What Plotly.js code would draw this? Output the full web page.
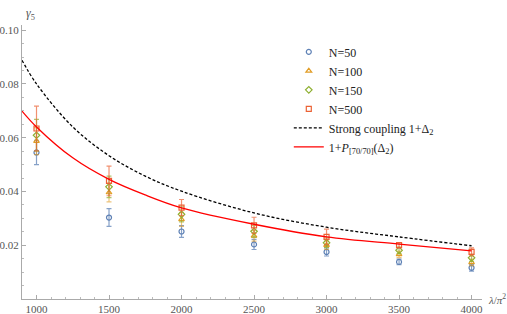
<!DOCTYPE html>
<html>
<head>
<meta charset="utf-8">
<script src="https://cdn.plot.ly/plotly-3.0.1.min.js"></script>
<style>html,body{margin:0;padding:0;background:#fff;}#chart{width:507px;height:314px;}</style>
</head>
<body>
<div id="chart"></div>
<script>
// lambda / pi^2 values of the data points
const lambdaVals = [1000, 1500, 2000, 2500, 3000, 3500, 4000];

// gamma_5 estimates and errors
const n50 = [0.0545, 0.0303, 0.0251, 0.0203, 0.0175, 0.0138, 0.0116];
const n50Err = [0.0045, 0.0033, 0.0022, 0.0019, 0.0015, 0.0010, 0.0012];
const n100 = [0.0587, 0.0396, 0.0296, 0.0235, 0.0200, 0.0166, 0.0136];
const n100Err = [0.0050, 0.0035, 0.0026, 0.0020, 0.0016, 0.0012, 0.0012];
const n150 = [0.0609, 0.0417, 0.0315, 0.0252, 0.0209, 0.0181, 0.0153];
const n150Err = [0.0059, 0.0040, 0.0028, 0.0022, 0.0018, 0.0012, 0.0013];
const n500 = [0.0634, 0.0439, 0.0340, 0.0274, 0.0231, 0.0200, 0.0175];
const n500Err = [0.0083, 0.0055, 0.0030, 0.0030, 0.0029, 0.0010, 0.0015];

// curves
const curveLambda = [900, 1000, 1250, 1500, 1750, 2000, 2500, 3000, 3500, 4000];
const strongCoupling = [0.0888, 0.0800, 0.0640, 0.0533, 0.0457, 0.0401, 0.0320, 0.0267, 0.0231, 0.0198];
const pade = [0.0699, 0.0640, 0.0525, 0.0445, 0.0387, 0.0339, 0.0278, 0.0231, 0.0204, 0.0179];

const xTicks = [1000, 1500, 2000, 2500, 3000, 3500, 4000];
const yTicks = [0.02, 0.04, 0.06, 0.08, 0.10];

const serif = "Times New Roman, Liberation Serif, serif";
const colors = {blue:'#5E81B5', orange:'#E19C24', green:'#8FB032', red:'#EB6235'};
const errColors = {blue:'rgba(94,129,181,0.75)', orange:'rgba(225,156,36,0.6)', green:'rgba(143,176,50,0.7)', red:'rgba(235,98,53,0.7)'};

function pts(name, y, err, sym, key) {
  return {
    x: lambdaVals, y: y, name: name, type: 'scatter', mode: 'markers', legendgroup: name,
    marker: {symbol: sym, size: 5, color: colors[key], line: {width: 1.2, color: colors[key]}},
    error_y: {type: 'data', array: err, visible: true, color: errColors[key], thickness: 1.2, width: 2.5}
  };
}

const traces = [
  pts('N=50', n50, n50Err, 'circle-open', 'blue'),
  pts('N=100', n100, n100Err, 'triangle-up-open', 'orange'),
  pts('N=150', n150, n150Err, 'diamond-open', 'green'),
  pts('N=500', n500, n500Err, 'square-open', 'red'),
  {x: curveLambda, y: strongCoupling, name: 'Strong coupling 1+Δ<sub>2</sub>', type: 'scatter', mode: 'lines', legendgroup: 'sc',
   line: {color: '#000', width: 1.3, dash: '3px,2px', shape: 'spline'}},
  {x: curveLambda, y: pade, name: '1+<i>P</i><sub>[70/70]</sub>(Δ<sub>2</sub>)', type: 'scatter', mode: 'lines', legendgroup: 'pade',
   line: {color: '#FF0000', width: 1.3, shape: 'spline'}}
];

const axisCommon = {
  showgrid: false, zeroline: false, showline: true, linecolor: '#aaa', linewidth: 1,
  ticks: 'inside', tickcolor: '#aaa', ticklen: 4, tickwidth: 1,
  tickfont: {family: serif, size: 11, color: '#555'}
};

const layout = {
  width: 507, height: 314,
  font: {family: serif},
  margin: {l: 22, r: 25, t: 25, b: 15},
  paper_bgcolor: '#fff', plot_bgcolor: '#fff',
  showlegend: true,
  xaxis: Object.assign({}, axisCommon, {
    range: [900, 4072], tickvals: xTicks, ticktext: xTicks.map(String),
    minor: {ticks: 'inside', ticklen: 2, dtick: 100, tick0: 0, tickcolor: '#bbb'}
  }),
  yaxis: Object.assign({}, axisCommon, {
    range: [0, 0.1019], tickvals: yTicks, ticktext: yTicks.map(v => v.toFixed(2)),
    minor: {ticks: 'inside', ticklen: 2, dtick: 0.005, tick0: 0, tickcolor: '#bbb'}
  }),
  legend: {
    x: 0.58, y: 0.955, xanchor: 'left', yanchor: 'top',
    bgcolor: 'rgba(0,0,0,0)', itemwidth: 30,
    font: {family: serif, size: 12, color: '#222'},
    tracegroupgap: 0
  },
  annotations: [
    {text: '<i>γ</i><sub>5</sub>', xref: 'paper', yref: 'paper', x: 0.005, y: 1.075, xanchor: 'left', yanchor: 'top',
     showarrow: false, font: {family: serif, size: 12, color: '#555'}},
    {text: '<i>λ</i>/<i>π</i><sup>2</sup>', xref: 'paper', yref: 'paper', x: 1.008, y: 0.0, xanchor: 'left', yanchor: 'middle',
     showarrow: false, font: {family: serif, size: 11, color: '#555'}}
  ]
};

Plotly.newPlot('chart', traces, layout, {displayModeBar: false, staticPlot: true});
</script>
</body>
</html>
